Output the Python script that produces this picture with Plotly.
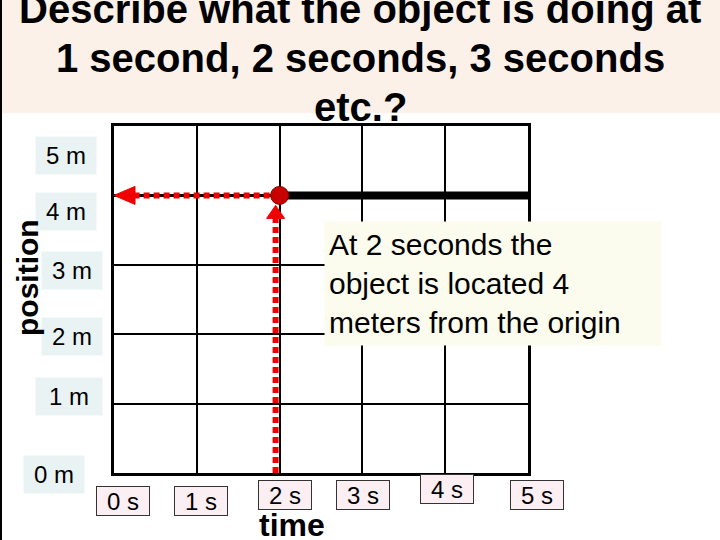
import plotly.graph_objects as go

# ---- data ----
time_ticks = [0, 1, 2, 3, 4, 5]
time_labels = ["0 s", "1 s", "2 s", "3 s", "4 s", "5 s"]
pos_ticks = [0, 1, 2, 3, 4, 5]
pos_labels = ["0 m", "1 m", "2 m", "3 m", "4 m", "5 m"]

motion_t = [2, 5]          # object stays at 4 m from t=2 s to t=5 s
motion_x = [4, 4]
point_t = 2                # highlighted reading
point_x = 4

title_lines = ["Describe what the object is doing at",
               "1 second, 2 seconds, 3 seconds",
               "etc.?"]
note_lines = ["At 2 seconds the", "object is located 4", "meters from the origin"]

# ---- layout geometry (pixels) ----
W, H = 720, 540
PL, PR, PT, PB = 114, 528, 126, 473      # plot area edges in px
XR = (0, 5)
YR = (0, 5)
ux = (XR[1] - XR[0]) / (PR - PL)          # data units per px
uy = (YR[1] - YR[0]) / (PB - PT)

def px(x):
    return x / W

def py(y):
    return 1 - y / H

RED = "#F00000"
DOTS = "6px,4px"
fig = go.Figure()

# horizontal projection (black guide under red dots)
fig.add_trace(go.Scatter(x=[0, point_t], y=[point_x, point_x], mode="lines",
                         line=dict(color="black", width=3), hoverinfo="skip"))
# object's motion (thick line)
fig.add_trace(go.Scatter(x=motion_t, y=motion_x, mode="lines",
                         line=dict(color="black", width=8), hoverinfo="skip"))

# red dotted vertical from time axis up to the point
head_len, head_half, gap = 13, 9, 10
vx = point_t - 4 * ux
fig.add_trace(go.Scatter(x=[vx, vx],
                         y=[0, point_x - (gap + head_len) * uy],
                         mode="lines", line=dict(color=RED, width=6, dash=DOTS),
                         hoverinfo="skip"))
# up arrow head
tip_y = point_x - gap * uy
fig.add_trace(go.Scatter(
    x=[vx - head_half * ux, vx + head_half * ux, vx, vx - head_half * ux],
    y=[tip_y - head_len * uy, tip_y - head_len * uy, tip_y, tip_y - head_len * uy],
    mode="lines", fill="toself", fillcolor=RED, line=dict(color=RED, width=1),
    hoverinfo="skip"))

# red dotted horizontal from the point to the position axis
hl_len, hl_half = 21, 9
fig.add_trace(go.Scatter(x=[point_t, XR[0] + hl_len * ux], y=[point_x, point_x],
                         mode="lines", line=dict(color=RED, width=6, dash=DOTS),
                         hoverinfo="skip"))
fig.add_trace(go.Scatter(
    x=[XR[0] + hl_len * ux, XR[0] + hl_len * ux, XR[0], XR[0] + hl_len * ux],
    y=[point_x + hl_half * uy, point_x - hl_half * uy, point_x, point_x + hl_half * uy],
    mode="lines", fill="toself", fillcolor=RED, line=dict(color=RED, width=1),
    hoverinfo="skip"))

# the point
fig.add_trace(go.Scatter(x=[point_t], y=[point_x], mode="markers",
                         marker=dict(color="#C80000", size=18,
                                     line=dict(color="#8A0000", width=1)),
                         hoverinfo="skip"))

annotations = []
# title
title_centers = [9, 58, 107]
for line, cy in zip(title_lines, title_centers):
    annotations.append(dict(text=line, x=0.5, y=py(cy), xref="paper", yref="paper",
                            xanchor="center", yanchor="middle", showarrow=False,
                            font=dict(family="Liberation Sans, Arial", size=40, color="black",
                                      weight="bold")))

# y labels (boxes)
ybox_centers = [(54, 474), (69, 396), (72, 336), (72, 270), (66, 211), (66, 156)]
ybox_w = [60, 66, 60, 60, 60, 60]
for lab, (cx, cy), bw in zip(pos_labels, ybox_centers, ybox_w):
    annotations.append(dict(text=lab, x=px(cx), y=py(cy), xref="paper", yref="paper",
                            xanchor="center", yanchor="middle", showarrow=False,
                            width=bw, height=37, bgcolor="#EAF3F3", borderpad=0,
                            font=dict(family="Liberation Sans, Arial", size=24, color="black")))

# x labels (boxes)
xbox_centers = [(123, 501), (201, 501), (285, 495), (363, 495), (447, 489), (537, 495)]
for lab, (cx, cy) in zip(time_labels, xbox_centers):
    annotations.append(dict(text=lab, x=px(cx), y=py(cy), xref="paper", yref="paper",
                            xanchor="center", yanchor="middle", showarrow=False,
                            width=52, height=28, bgcolor="#FBEFF3", bordercolor="#333333",
                            borderwidth=1, borderpad=0,
                            font=dict(family="Liberation Sans, Arial", size=24, color="black")))

# axis titles
annotations.append(dict(text="position", x=px(27), y=py(278), xref="paper", yref="paper",
                        xanchor="center", yanchor="middle", showarrow=False, textangle=-90,
                        font=dict(family="Liberation Sans, Arial", size=30, color="black",
                                  weight="bold")))
annotations.append(dict(text="time", x=px(292), y=py(525), xref="paper", yref="paper",
                        xanchor="center", yanchor="middle", showarrow=False,
                        font=dict(family="Liberation Sans, Arial", size=32, color="black",
                                  weight="bold")))

# note box
annotations.append(dict(text="<br>".join(note_lines), x=px(324), y=py(283.5),
                        xref="paper", yref="paper", xanchor="left", yanchor="middle",
                        showarrow=False, align="left", width=328, height=115, borderpad=4,
                        bgcolor="#FCFCEE",
                        font=dict(family="Liberation Sans, Arial", size=30, color="black")))

shapes = [
    dict(type="rect", xref="paper", yref="paper", x0=0, x1=1, y0=py(113), y1=1,
         fillcolor="#FCF1E9", line=dict(width=0), layer="below"),
    dict(type="line", xref="paper", yref="paper", x0=px(1), x1=px(1), y0=0, y1=1,
         line=dict(color="black", width=2)),
]

axis_common = dict(showgrid=True, gridcolor="black", gridwidth=2, zeroline=False,
                   showline=True, linecolor="black", linewidth=3, mirror=True,
                   showticklabels=False, ticks="", fixedrange=True)

fig.update_layout(
    width=W, height=H, margin=dict(l=0, r=0, t=0, b=0),
    paper_bgcolor="white", plot_bgcolor="white", showlegend=False,
    xaxis=dict(range=list(XR), domain=[PL / W, PR / W], tickvals=time_ticks, **axis_common),
    yaxis=dict(range=list(YR), domain=[1 - PB / H, 1 - PT / H], tickvals=pos_ticks,
               **axis_common),
    annotations=annotations, shapes=shapes,
)

fig.write_html("out.html", config={"displayModeBar": False},
               post_script="document.body.style.margin='0px';document.body.style.overflow='hidden';")
